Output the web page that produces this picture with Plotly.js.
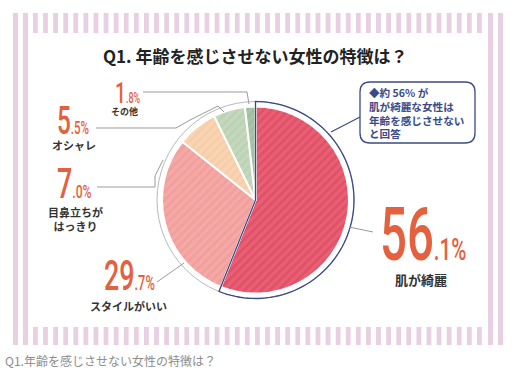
<!DOCTYPE html>
<html><head><meta charset="utf-8">
<script src="https://cdn.plot.ly/plotly-3.0.1.min.js"></script>
<style>html,body{margin:0;padding:0;background:#fff;}#chart{width:517px;height:375px;}</style>
</head><body><div id="chart"></div>
<script>
// ---- data ----
const categories = ['肌が綺麗', 'スタイルがいい', '目鼻立ちがはっきり', 'オシャレ', 'その他'];
const values = [56.1, 29.7, 7.0, 5.5, 1.8];
const labelLines = [['肌が綺麗'], ['スタイルがいい'], ['目鼻立ちが', 'はっきり'], ['オシャレ'], ['その他']];
const titleText = 'Q1. 年齢を感じさせない女性の特徴は？';
const captionText = 'Q1.年齢を感じさせない女性の特徴は？';
const calloutLines = ['◆約 56% が', '肌が綺麗な女性は', '年齢を感じさせない', 'と回答'];

// ---- styling / layout ----
const W = 517, H = 375;
const px = x => x / W, py = y => 1 - y / H;
const CX = 255.5, CY = 200, R = 93.5, RO = 98.5;
const bgColors = ['#e95f74', '#f5a9a7', '#f9d4b3', '#c4d8bd', '#a7c6a8'];
const fgColors = ['#d8435c', '#ee9593', '#f4c6a0', '#b3cbab', '#95b897'];
const numColor = '#e4613f';
const navy = '#3b4a86';
const numFont = 'Roboto, "DejaVu Sans", sans-serif';
const jpFont = '"Noto Sans CJK JP", sans-serif';
const stripe = '#e8d0e2';
const numScale = 0.64;

// label placement (pixel): number anchor (left x, middle y), big/small font sizes, label center & size
const numPos = [
  {x: 378, y: 234, big: 74, small: 32, lx: 421, ly: 279, ls: 13},
  {x: 102, y: 275, big: 42, small: 20, lx: 128, ly: 306, ls: 11},
  {x: 55, y: 183, big: 42, small: 19, lx: 75, ly: 219, ls: 11},
  {x: 55, y: 121, big: 38, small: 18, lx: 74, ly: 145, ls: 11},
  {x: 113, y: 92.5, big: 30, small: 14, lx: 124, ly: 111.5, ls: 9}
];

const shapes = [];
function rect(x0, y0, x1, y1, c) {
  shapes.push({type: 'rect', xref: 'paper', yref: 'paper', x0: px(x0), x1: px(x1), y0: py(y1), y1: py(y0),
    fillcolor: c, line: {width: 0}, layer: 'below'});
}
rect(13, 13, 18, 345, stripe); rect(23, 13, 28, 345, stripe);
rect(488, 13, 493, 345, stripe); rect(498, 13, 503, 345, stripe);
const n = 45, step = (477 - 33) / (n - 1);
for (let i = 0; i < n; i++) {
  const x = 33 + i * step;
  rect(x, 13, x + 4.8, 33, stripe);
  rect(x, 327, x + 4.8, 345, stripe);
}
const P = (x, y) => px(x).toFixed(5) + ',' + py(y).toFixed(5);
function pathOf(pts, close) {
  return pts.map((p, i) => (i ? 'L' : 'M') + P(p[0], p[1])).join(' ') + (close ? ' Z' : '');
}
function arcPts(r, a0, a1, k) {
  const pts = [];
  for (let i = 0; i <= k; i++) {
    const t = (a0 + (a1 - a0) * i / k) * Math.PI / 180;
    pts.push([CX + r * Math.sin(t), CY - r * Math.cos(t)]);
  }
  return pts;
}
// outer gray ring
shapes.push({type: 'circle', xref: 'paper', yref: 'paper', x0: px(CX - RO), x1: px(CX + RO), y0: py(CY + RO), y1: py(CY - RO),
  fillcolor: '#fff', line: {color: '#b9b9b9', width: 1}, layer: 'below'});
// navy outline of the first slice
const total = values.reduce((a, b) => a + b, 0);
const a1 = values[0] / total * 360;
shapes.push({type: 'path', xref: 'paper', yref: 'paper', layer: 'above',
  path: pathOf([[CX, CY]].concat(arcPts(RO, 0, a1, 80)), true), line: {color: navy, width: 1.3}});
// leader lines
const grey = '#9a9a9a';
const leaders = [
  [[349, 227], [373, 232]],
  [[157, 282], [184, 263]],
  [[97, 187], [155, 187], [155, 176], [163, 160]],
  [[96, 128], [176, 128], [190, 120], [218, 106], [224, 112]],
  [[143, 92], [247, 92], [249, 104]]
];
leaders.forEach(l => shapes.push({type: 'path', xref: 'paper', yref: 'paper', path: pathOf(l), line: {color: grey, width: 1}}));
// callout connector and rounded box
shapes.push({type: 'path', xref: 'paper', yref: 'paper', path: pathOf([[360, 117], [331, 132]]), line: {color: navy, width: 1.2}});
(function () {
  const x0 = 360, x1 = 475, y0 = 82, y1 = 143, r = 10;
  const d = 'M' + P(x0 + r, y0) + ' L' + P(x1 - r, y0) + ' Q' + P(x1, y0) + ' ' + P(x1, y0 + r) +
    ' L' + P(x1, y1 - r) + ' Q' + P(x1, y1) + ' ' + P(x1 - r, y1) + ' L' + P(x0 + r, y1) +
    ' Q' + P(x0, y1) + ' ' + P(x0, y1 - r) + ' L' + P(x0, y0 + r) + ' Q' + P(x0, y0) + ' ' + P(x0 + r, y0) + ' Z';
  shapes.push({type: 'path', xref: 'paper', yref: 'paper', path: d, line: {color: navy, width: 1.3}, fillcolor: '#fff'});
})();

const annotations = [];
const numIdx = [];
values.forEach((v, i) => {
  const p = numPos[i];
  const parts = v.toFixed(1).split('.');
  numIdx.push(annotations.length);
  annotations.push({xref: 'paper', yref: 'paper', x: px(p.x), y: py(p.y), xanchor: 'left', yanchor: 'middle', showarrow: false,
    text: '<span style="font-size:' + p.big + 'px">' + parts[0] + '</span><span style="font-size:' + p.small + 'px">.' + parts[1] + '%</span>',
    font: {family: numFont, color: numColor, size: p.big, weight: 500}});
  annotations.push({xref: 'paper', yref: 'paper', x: px(p.lx), y: py(p.ly), xanchor: 'center', yanchor: 'middle', showarrow: false,
    align: 'center', text: labelLines[i].map(t => '<b>' + t + '</b>').join('<br>'),
    font: {family: jpFont, color: '#333', size: p.ls}});
});
annotations.push({xref: 'paper', yref: 'paper', x: px(367), y: py(113.5), xanchor: 'left', yanchor: 'middle', showarrow: false,
  align: 'left', text: calloutLines.map(t => '<b>' + t + '</b>').join('<br>'), font: {family: jpFont, color: navy, size: 10.6}});
annotations.push({xref: 'paper', yref: 'paper', x: px(255), y: py(56), xanchor: 'center', yanchor: 'middle', showarrow: false,
  text: '<b>' + titleText + '</b>', font: {family: jpFont, color: '#222', size: 17}});
annotations.push({xref: 'paper', yref: 'paper', x: px(3), y: py(360), xanchor: 'left', yanchor: 'middle', showarrow: false,
  text: captionText, font: {family: jpFont, color: '#8c8c8c', size: 12}});

const trace = {
  type: 'pie', labels: categories, values: values, sort: false, direction: 'clockwise', rotation: 0,
  textinfo: 'none', hoverinfo: 'none', showlegend: false,
  domain: {x: [px(CX - R), px(CX + R)], y: [py(CY + R), py(CY - R)]},
  marker: {colors: bgColors, line: {color: '#fff', width: 2},
    pattern: {shape: '/', fillmode: 'overlay', fgcolor: fgColors, size: 6, solidity: 0.45}}
};

Plotly.newPlot('chart', [trace], {
  width: W, height: H, margin: {l: 0, r: 0, t: 0, b: 0},
  paper_bgcolor: '#fff', plot_bgcolor: '#fff', showlegend: false,
  shapes: shapes, annotations: annotations
}, {staticPlot: true}).then(gd => {
  // condense the big percentage numbers horizontally (reference uses a condensed face)
  const groups = gd.querySelectorAll('g.annotation');
  numIdx.forEach(k => {
    const g = groups[k];
    if (!g) return;
    const t = g.querySelector('text');
    if (!t) return;
    const bb = t.getBBox();
    t.setAttribute('transform', 'translate(' + bb.x + ',0) scale(' + numScale + ',1) translate(' + (-bb.x) + ',0)');
  });
});
</script></body></html>
